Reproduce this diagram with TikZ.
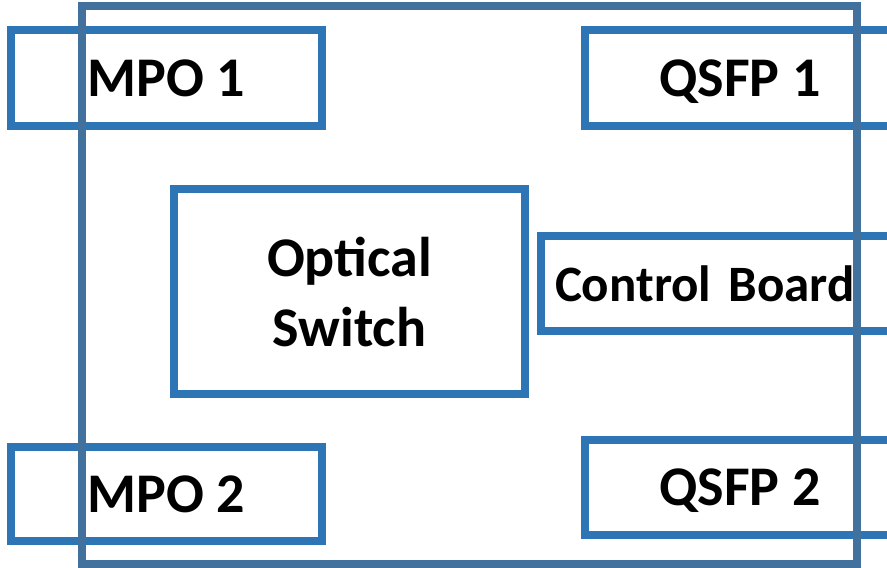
\documentclass[tikz,border=0pt]{standalone}
\usepackage{fontspec}
\setmainfont{Carlito}
\usepackage{tikz}
\usetikzlibrary{positioning}

\definecolor{PortBlue}{HTML}{2E75B6}
\definecolor{BoardBlue}{HTML}{41719C}

\begin{document}
\begin{tikzpicture}[
x=1pt, y=-1pt,
box/.style={draw=PortBlue, line width=8pt, outer sep=0pt, inner sep=0pt, text depth=0pt, align=center, font=\fontsize{56}{70}\selectfont\bfseries},
board/.style={draw=BoardBlue, line width=8pt, outer sep=0pt, minimum width=775pt, minimum height=558.5pt}
]
\useasboundingbox (0,0) rectangle (887,568);
\node[box, minimum width=311pt, minimum height=96pt] (mpo1) at (166.5,78) {MPO 1};
\node[box, minimum width=311pt, minimum height=94pt, below=321pt of mpo1] (mpo2) {MPO 2};
\node[box, minimum width=310pt, minimum height=96pt, right=263pt of mpo1] (qsfp1) {QSFP 1};
\node[box, minimum width=310pt, minimum height=95pt, below=314pt of qsfp1] (qsfp2) {QSFP 2};
\node[box, minimum width=351pt, minimum height=205pt] (switch) at (349.5,291.5) {Optical\\Switch};
\node[box, minimum width=359pt, minimum height=95pt, inner xsep=14pt, text width=331pt, align=left, font=\fontsize{51}{60}\selectfont\bfseries, right=16pt of switch, yshift=8pt] (ctrl) {Control Board};
% enclosure on top
\node[board] (enclosure) at (469.5,284.75) {};
\end{tikzpicture}
\end{document}
